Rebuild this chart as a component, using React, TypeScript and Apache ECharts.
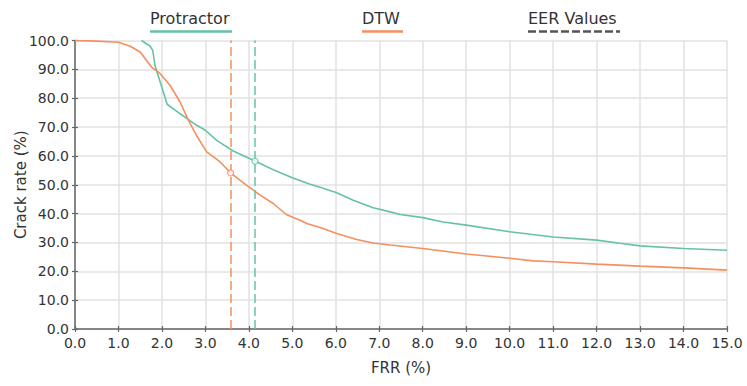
import React, { useEffect, useRef } from "react";
import * as echarts from "echarts";

const xTicks = ["0.0","1.0","2.0","3.0","4.0","5.0","6.0","7.0","8.0","9.0","10.0","11.0","12.0","13.0","14.0","15.0"];

const protractorX = [1.53, 1.73, 1.79, 1.84, 1.96, 2.12, 2.42, 2.61, 2.8, 3.0, 3.26, 3.64, 4.14, 4.56, 5.0, 5.41, 5.64, 6.02, 6.4, 6.86, 7.25, 7.48, 8.0, 8.47, 9.0, 10.0, 11.0, 12.0, 12.54, 13.0, 14.0, 15.0];
const protractorY = [100, 98, 96.5, 91.3, 85.6, 77.9, 74.6, 72.6, 70.6, 68.9, 65.4, 61.7, 58.2, 55.2, 52.4, 50.2, 49.1, 47.2, 44.6, 42.0, 40.6, 39.7, 38.6, 37.1, 36.0, 33.7, 31.9, 30.8, 29.7, 28.8, 27.9, 27.3];

const dtwX = [0, 0.5, 1.0, 1.27, 1.5, 1.65, 1.76, 1.96, 2.19, 2.42, 2.61, 2.8, 3.03, 3.34, 3.58, 3.95, 4.26, 4.56, 4.87, 5.18, 5.33, 5.64, 6.02, 6.48, 6.86, 7.25, 8.0, 9.0, 10.0, 10.54, 11.0, 12.0, 13.0, 14.0, 15.0];
const dtwY = [100, 99.8, 99.4, 98.0, 96, 93, 90.8, 88.5, 84.4, 78.6, 72.3, 67.0, 61.4, 57.9, 54.1, 49.8, 46.4, 43.5, 39.6, 37.7, 36.6, 35.2, 33.1, 31.0, 29.8, 29.1, 27.9, 26.0, 24.5, 23.6, 23.3, 22.5, 21.8, 21.2, 20.4];

const eerNames = ["DTW", "Protractor"];
const eerX = [3.58, 4.14];
const eerY = [54.1, 58.2];

const GREEN = "#66c2a5";
const ORANGE = "#f48f5e";
const FONT = "DejaVu Sans";

export default function App() {
  const ref = useRef<HTMLDivElement>(null);
  useEffect(() => {
    if (!ref.current) return;
    const chart = echarts.init(ref.current, undefined, { renderer: "svg" });
    const zip = (xs: number[], ys: number[]) => xs.map((x, i) => [x, ys[i]]);
    const eerColors = [ORANGE, GREEN];
    chart.setOption({
      animation: false,
      textStyle: { fontFamily: FONT },
      grid: { left: 75, right: 20, top: 40.5, bottom: 57, containLabel: false, outerBoundsMode: "none" },
      xAxis: [
        {
          type: "value", min: 0, max: 15, interval: 1, position: "bottom",
          name: "FRR (%)", nameLocation: "middle", nameGap: 31, nameMoveOverlap: false,
          nameTextStyle: { fontSize: 15, color: "#333", fontFamily: FONT },
          axisLine: { lineStyle: { color: "#666", width: 1.5 } },
          axisTick: { length: 3, lineStyle: { color: "#666", width: 1.2 } },
          axisLabel: { fontSize: 14, color: "#333", margin: 7, formatter: (v: number) => xTicks[Math.round(v)] ?? v.toFixed(1) },
          splitLine: { show: true, lineStyle: { color: "#e2e2e2", width: 1.5 } },
        },
        {
          type: "value", min: 0, max: 15, interval: 1, position: "bottom",
          axisLine: { show: false },
          axisTick: { inside: true, length: 3, lineStyle: { color: "#666", width: 1.2 } },
          axisLabel: { show: false },
          splitLine: { show: false },
        },
      ],
      yAxis: [
        {
          type: "value", min: 0, max: 100, interval: 10, position: "left",
          name: "Crack rate (%)", nameLocation: "middle", nameGap: 47, nameMoveOverlap: false,
          nameTextStyle: { fontSize: 15, color: "#333", fontFamily: FONT },
          axisLine: { show: true, lineStyle: { color: "#666", width: 1.5 } },
          axisTick: { show: true, length: 3, lineStyle: { color: "#666", width: 1.2 } },
          axisLabel: { fontSize: 14, color: "#333", margin: 6, formatter: (v: number) => v.toFixed(1) },
          splitLine: { show: true, lineStyle: { color: "#e2e2e2", width: 1.5 } },
        },
        {
          type: "value", min: 0, max: 100, interval: 10, position: "left",
          axisLine: { show: false },
          axisTick: { show: true, inside: true, length: 3, lineStyle: { color: "#666", width: 1.2 } },
          axisLabel: { show: false },
          splitLine: { show: false },
        },
      ],
      series: [
        {
          name: "Protractor", type: "line", data: zip(protractorX, protractorY),
          showSymbol: false, symbol: "none", lineStyle: { color: GREEN, width: 1.6 }, itemStyle: { color: GREEN },
          z: 3,
        },
        {
          name: "DTW", type: "line", data: zip(dtwX, dtwY),
          showSymbol: false, symbol: "none", lineStyle: { color: ORANGE, width: 1.6 }, itemStyle: { color: ORANGE },
          z: 4,
        },
        {
          name: "EER Values", type: "scatter",
          data: eerX.map((x, i) => ({
            name: eerNames[i], value: [x, eerY[i]],
            itemStyle: { color: "#fff", borderColor: eerColors[i], borderWidth: 1.3 },
          })),
          symbol: "circle", symbolSize: 6, z: 5,
          markLine: {
            silent: true, symbol: ["none", "none"], label: { show: false },
            data: eerX.map((x, i) => ({ xAxis: x, lineStyle: { color: eerColors[i], type: [9, 4], width: 1.5 } })),
          },
        },
      ],
      graphic: [
        { type: "text", left: 150, top: 10, style: { text: "Protractor", fontSize: 16, fill: "#333", fontFamily: FONT } },
        { type: "line", shape: { x1: 150, y1: 31.5, x2: 232, y2: 31.5 }, style: { stroke: GREEN, lineWidth: 2.5 } },
        { type: "text", left: 362, top: 10, style: { text: "DTW", fontSize: 16, fill: "#333", fontFamily: FONT } },
        { type: "line", shape: { x1: 362, y1: 31.5, x2: 403, y2: 31.5 }, style: { stroke: ORANGE, lineWidth: 2.5 } },
        { type: "text", left: 528, top: 10, style: { text: "EER Values", fontSize: 16, fill: "#333", fontFamily: FONT } },
        { type: "line", shape: { x1: 528, y1: 31.5, x2: 620, y2: 31.5 }, style: { stroke: "#555", lineWidth: 2.5, lineDash: [8, 3] } },
      ],
    });
    return () => chart.dispose();
  }, []);
  return <div ref={ref} style={{ width: 747, height: 386, position: "absolute", left: 0, top: 0 }} />;
}
